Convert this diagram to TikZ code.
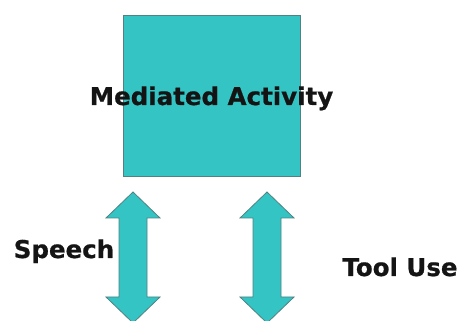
\documentclass[tikz,border=0pt]{standalone}
\usepackage{fontspec}
\setmainfont{DejaVu Sans}[BoldFont=DejaVu Sans Bold, BoldFeatures={FakeBold=0.7}]
\begin{document}
\begin{tikzpicture}[x=1pt,y=1pt,
  teal box/.style={fill=boxfill, draw=boxline, line width=0.8pt},
  label text/.style={font=\bfseries\fontsize{24.5}{28}\selectfont, text=black!92, inner sep=0pt, anchor=base}]
\definecolor{boxfill}{RGB}{52,196,196}
\definecolor{boxline}{RGB}{80,130,130}
\useasboundingbox (0,0) rectangle (463,321);
\fill[white] (0,0) rectangle (463,321);
\clip (0,0) rectangle (463,321);
% box
\draw[teal box] (123,145) rectangle (300,306);
% left double arrow
\draw[teal box] (133,129) -- (160,103) -- (147,103) -- (147,24) -- (160,24) -- (133,-2)
  -- (106,24) -- (119,24) -- (119,103) -- (106,103) -- cycle;
% right double arrow
\draw[teal box] (267,129) -- (294,103) -- (281,103) -- (281,24) -- (294,24) -- (267,-2)
  -- (240,24) -- (253,24) -- (253,103) -- (240,103) -- cycle;
\node[label text] (ma) at (211.5,216) {Mediated Activity};
\node[label text] (sp) at (64,63) {Speech};
\node[label text] (tu) at (400,45) {Tool Use};
\end{tikzpicture}
\end{document}
